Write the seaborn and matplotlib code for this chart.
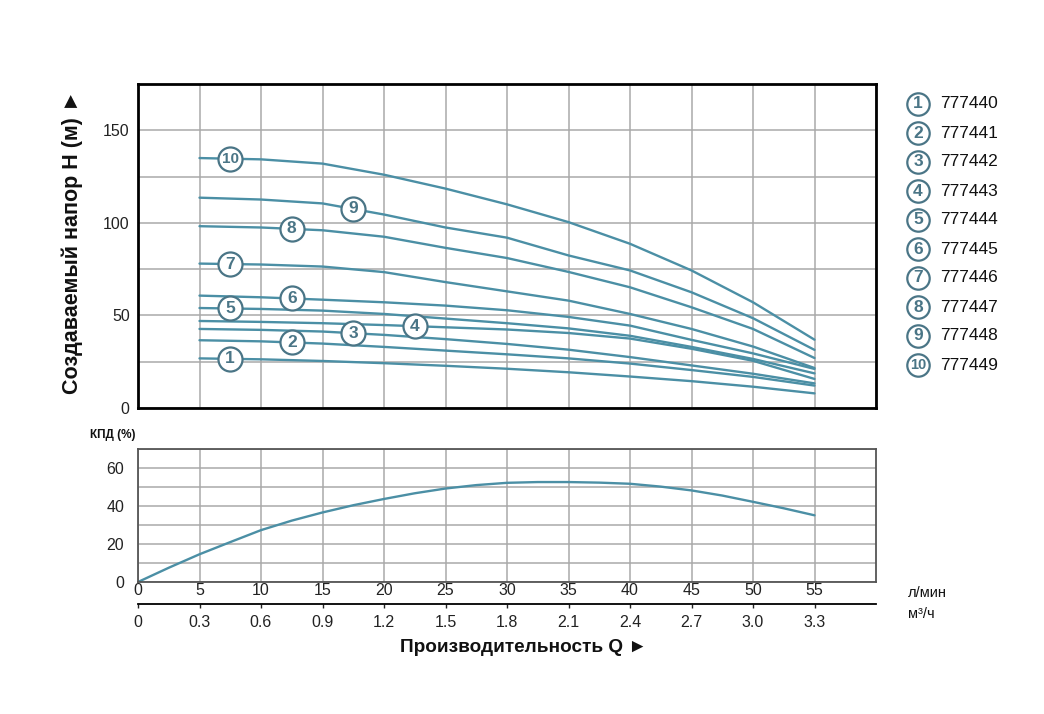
import numpy as np
import pandas as pd
import matplotlib
matplotlib.use("Agg")
import matplotlib.pyplot as plt
import seaborn as sns

sns.set_theme(style="white")
plt.rcParams["font.family"] = ["Liberation Sans", "DejaVu Sans"]

# ---------------- data ----------------
Q_LMIN = [5, 10, 15, 20, 25, 30, 35, 40, 45, 50, 55]
H1 = [26.8, 26.3, 25.4, 24.2, 22.8, 21.2, 19.3, 17.0, 14.5, 11.5, 7.9]
H2 = [36.6, 36.0, 34.8, 33.0, 31.0, 29.0, 26.8, 24.0, 20.5, 16.8, 12.1]
H3 = [42.7, 42.2, 41.3, 39.5, 37.2, 34.6, 31.5, 27.5, 23.0, 18.5, 13.3]
H4 = [47.0, 46.5, 45.8, 44.8, 43.6, 42.4, 40.5, 37.5, 32.0, 25.5, 15.7]
H5 = [54.0, 53.5, 52.6, 50.8, 48.3, 45.8, 43.0, 39.0, 33.0, 26.5, 18.7]
H6 = [60.7, 59.8, 58.5, 57.1, 55.3, 52.8, 49.2, 44.5, 36.8, 29.5, 21.1]
H7 = [78.0, 77.5, 76.4, 73.4, 68.0, 63.0, 58.0, 50.8, 42.7, 33.2, 21.6]
H8 = [98.2, 97.5, 96.0, 92.5, 86.5, 81.0, 73.5, 65.2, 54.4, 42.7, 27.0]
H9 = [113.6, 112.6, 110.5, 104.5, 97.5, 92.0, 82.4, 74.3, 62.5, 48.5, 31.4]
H10 = [135.0, 134.3, 132.0, 126.0, 118.5, 110.0, 100.4, 88.7, 74.3, 57.1, 36.9]
HEADS = [H1, H2, H3, H4, H5, H6, H7, H8, H9, H10]

MODELS = ["777440", "777441", "777442", "777443", "777444",
          "777445", "777446", "777447", "777448", "777449"]
CURVE_NUMS = ["1", "2", "3", "4", "5", "6", "7", "8", "9", "10"]
LABEL_Q = [7.5, 12.5, 17.5, 22.5, 7.5, 12.5, 7.5, 12.5, 17.5, 7.5]

EFF_Q = [0, 2.5, 5, 7.5, 10, 12.5, 15, 17.5, 20, 22.5, 25, 27.5, 30,
         32.5, 35, 37.5, 40, 42.5, 45, 47.5, 50, 52.5, 55]
EFF = [0, 7.5, 14.6, 21.0, 27.3, 32.3, 36.6, 40.4, 43.7, 46.7, 49.2, 51.0, 52.2,
       52.6, 52.6, 52.3, 51.7, 50.2, 48.2, 45.5, 42.2, 38.8, 35.1]

Q_TICKS = [0, 5, 10, 15, 20, 25, 30, 35, 40, 45, 50, 55]
Q_LABELS = ["0", "5", "10", "15", "20", "25", "30", "35", "40", "45", "50", "55"]
M3H_LABELS = ["0", "0.3", "0.6", "0.9", "1.2", "1.5", "1.8", "2.1", "2.4", "2.7", "3.0", "3.3"]

# ---------------- styles ----------------
LINE = "#4b8fa5"
BADGE = "#4a7586"
GRID = "#a9a9a9"
W, H = 1044, 714

fig = plt.figure(figsize=(W / 100, H / 100), dpi=100)
ax = fig.add_axes([138 / W, 1 - 408 / H, 738 / W, 324 / H])
axe = fig.add_axes([138 / W, 1 - 582 / H, 738 / W, 133 / H])

# ---------------- head curves ----------------
rows = []
for m, h in zip(MODELS, HEADS):
    for q, v in zip(Q_LMIN, h):
        rows.append({"Q": q, "H": v, "model": m})
df = pd.DataFrame(rows)
sns.lineplot(data=df, x="Q", y="H", hue="model", palette={m: LINE for m in MODELS},
             legend=False, ax=ax, linewidth=1.7, estimator=None, sort=False)

for num, h, lq in zip(CURVE_NUMS, HEADS, LABEL_Q):
    yv = np.interp(lq, Q_LMIN, h)
    ax.scatter([lq], [yv], s=300, facecolor="white", edgecolor=BADGE, linewidth=1.6, zorder=4)
    ax.text(lq, yv, num, ha="center", va="center", fontsize=12.5 if len(num) == 1 else 11,
            fontweight="bold", color=BADGE, zorder=5)

ax.set_xlim(0, 60)
ax.set_ylim(0, 175)
ax.set_xticks(np.arange(0, 61, 5))
ax.set_xticklabels([])
ax.set_yticks(np.arange(0, 176, 25))
ax.set_yticklabels(["0", "", "50", "", "100", "", "150", ""])
ax.grid(True, color=GRID, linewidth=1.1)
ax.set_axisbelow(True)
ax.tick_params(axis="both", length=0, labelsize=11.5, pad=6, colors="#222222")
ax.set_xlabel("")
ax.set_ylabel("")
for sp in ax.spines.values():
    sp.set_color("black")
    sp.set_linewidth(2)

# ---------------- efficiency ----------------
sns.lineplot(x=EFF_Q, y=EFF, ax=axe, color=LINE, linewidth=1.7)
axe.set_xlim(0, 60)
axe.set_ylim(0, 70)
axe.set_xticks(Q_TICKS)
axe.set_xticklabels(Q_LABELS)
axe.set_yticks(np.arange(0, 71, 10))
axe.set_yticklabels(["0", "", "20", "", "40", "", "60", ""])
axe.grid(True, color=GRID, linewidth=1.1)
axe.set_axisbelow(True)
axe.tick_params(axis="x", length=0, labelsize=11.5, pad=1, colors="#222222")
axe.tick_params(axis="y", length=0, labelsize=11.5, pad=10, colors="#222222")
for sp in axe.spines.values():
    sp.set_color("#555555")
    sp.set_linewidth(1.3)

sec = axe.secondary_xaxis(-22 / 133)
sec.set_xticks(Q_TICKS)
sec.set_xticklabels(M3H_LABELS)
sec.tick_params(axis="x", length=3, width=1, labelsize=11.5, pad=5, colors="#222222")
sec.spines["bottom"].set_color("black")
sec.spines["bottom"].set_linewidth(1.3)

# ---------------- texts ----------------
fig.text(72 / W, 1 - 242 / H, "Создаваемый напор Н (м) ►", rotation=90, ha="center",
         va="center", fontsize=15.5, fontweight="bold", color="#111111")
fig.text(113 / W, 1 - 435 / H, "КПД (%)", ha="center", va="center", fontsize=8.5,
         fontweight="bold", color="#111111")
fig.text(523 / W, 1 - 647 / H, "Производительность Q ►", ha="center", va="center",
         fontsize=13.7, fontweight="bold", color="#111111")
fig.text(908 / W, 1 - 593 / H, "л/мин", ha="left", va="center", fontsize=10.5, color="#111111")
fig.text(908 / W, 1 - 614 / H, "м³/ч", ha="left", va="center", fontsize=10.5, color="#111111")

# ---------------- legend ----------------
lg = fig.add_axes([0, 0, 1, 1], facecolor="none")
lg.set_xlim(0, W)
lg.set_ylim(H, 0)
lg.axis("off")
for i, (num, m) in enumerate(zip(CURVE_NUMS, MODELS)):
    y = 104 + i * 29.0
    lg.scatter([918], [y], s=260, facecolor="white", edgecolor=BADGE, linewidth=1.6, zorder=4)
    lg.text(918, y, num, ha="center", va="center", fontsize=12.5 if len(num) == 1 else 10.5,
            fontweight="bold", color=BADGE, zorder=5)
    lg.text(940, y, m, ha="left", va="center", fontsize=12.5, color="#111111")

fig.savefig("out.png", dpi=100, facecolor="white")
